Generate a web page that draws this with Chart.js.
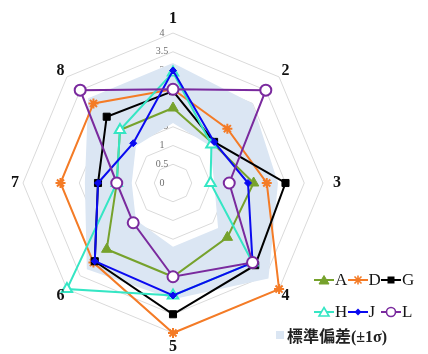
<!DOCTYPE html>
<html>
<head>
<meta charset="utf-8">
<script src="https://cdn.jsdelivr.net/npm/chart.js@4"></script>
<style>
  html, body { margin: 0; padding: 0; background: #fff; }
  #wrap { position: relative; width: 428px; height: 354px; overflow: hidden; }
  #c { position: absolute; left: 0; top: 0; }
  .lg { position: absolute; display: flex; align-items: center; height: 18px;
        font-family: 'Liberation Serif', 'Times New Roman', serif; font-size: 17px;
        color: #151515; white-space: nowrap; }
  .lg svg { display: block; margin-right: 1px; }
  #sdlg { position: absolute; left: 276px; top: 323px; display: flex; align-items: center;
          font-family: 'Liberation Serif', 'Noto Sans CJK TC', serif; font-weight: bold;
          font-size: 16px; color: #222; white-space: nowrap; }
  #sdlg .sw { width: 8px; height: 8px; margin-right: 3px; }
</style>
</head>
<body>
<div id="wrap">
  <canvas id="c" width="428" height="354"></canvas>
  <div id="legend"></div>
</div>
<script>
// Axis (category) labels and radial ticks
const axisLabels = ['1', '2', '3', '4', '5', '6', '7', '8'];
const tickValues = [0, 0.5, 1, 1.5, 2, 2.5, 3, 3.5, 4];

// Series values, one per axis 1..8
const seriesNames = ['A', 'D', 'G', 'H', 'J', 'L'];
const valuesA = [2.0, 1.5, 2.15, 2.05, 2.5, 2.5, 1.5, 2.0];
const valuesD = [2.5, 2.05, 2.5, 4.0, 4.0, 3.0, 3.0, 3.0];
const valuesG = [2.45, 1.55, 3.0, 3.1, 3.5, 2.95, 2.0, 2.5];
const valuesH = [2.95, 1.45, 1.0, 3.0, 3.0, 4.0, 1.5, 2.0];
const valuesJ = [3.0, 1.55, 2.0, 3.0, 3.0, 2.95, 2.0, 1.5];
const valuesL = [2.5, 3.5, 1.5, 3.0, 2.5, 1.5, 1.5, 3.5];

// Standard deviation band (upper and lower edges)
const sdLabel = '標準偏差(±1σ)';
const sdUpper = [3.2, 3.0, 2.8, 3.6, 3.1, 3.25, 2.35, 3.2];
const sdLower = [1.6, 1.4, 1.1, 1.7, 1.7, 1.4, 1.1, 1.4];

const seriesValues = [valuesA, valuesD, valuesG, valuesH, valuesJ, valuesL];

// Visual style of each series
const seriesStyle = [
  { color: '#76a22c', point: 'triangle', fill: '#76a22c', r: 6, bw: 1 },
  { color: '#f47b26', point: 'star',     fill: '#f47b26', r: 5, bw: 2 },
  { color: '#000000', point: 'rect',     fill: '#000000', r: 5, bw: 1 },
  { color: '#35e6c4', point: 'triangle', fill: '#ffffff', r: 6, bw: 2 },
  { color: '#0a0af0', point: 'rectRot',  fill: '#0a0af0', r: 3.5, bw: 1 },
  { color: '#7a2a9e', point: 'circle',   fill: '#ffffff', r: 5.5, bw: 2 }
];
const bandColor = '#dbe6f3';

// Later series are painted over earlier ones; the band sits underneath all
const datasets = seriesNames.map((name, i) => ({
  label: name,
  data: seriesValues[i],
  order: seriesNames.length - i,
  borderColor: seriesStyle[i].color,
  borderWidth: 2,
  backgroundColor: seriesStyle[i].fill,
  fill: false,
  pointStyle: seriesStyle[i].point,
  pointRadius: seriesStyle[i].r,
  pointBorderWidth: seriesStyle[i].bw,
  pointBorderColor: seriesStyle[i].color,
  pointBackgroundColor: seriesStyle[i].fill
}));
datasets.push({
  label: sdLabel,
  data: sdUpper,
  order: 20,
  borderWidth: 0,
  borderColor: 'rgba(0,0,0,0)',
  backgroundColor: bandColor,
  fill: '+1',
  pointRadius: 0
});
datasets.push({
  label: sdLabel + ' lower',
  data: sdLower,
  order: 21,
  borderWidth: 0,
  borderColor: 'rgba(0,0,0,0)',
  backgroundColor: 'rgba(0,0,0,0)',
  fill: false,
  pointRadius: 0
});

// Tick numbers just left of the vertical axis, axis numbers outside the web
const labelPlugin = {
  id: 'radarText',
  beforeDatasetsDraw(chart) {
    const s = chart.scales.r, ctx = chart.ctx;
    ctx.save();
    ctx.font = '10px "Liberation Serif", serif';
    ctx.fillStyle = '#6e6e6e';
    ctx.textAlign = 'center';
    ctx.textBaseline = 'middle';
    tickValues.forEach(v => {
      const d = s.getDistanceFromCenterForValue(v);
      ctx.fillText(String(v), s.xCenter - 11, s.yCenter - d);
    });
    ctx.restore();
  },
  afterDraw(chart) {
    const s = chart.scales.r, ctx = chart.ctx;
    ctx.save();
    ctx.font = 'bold 16px "Liberation Serif", serif';
    ctx.fillStyle = '#111';
    ctx.textAlign = 'center';
    ctx.textBaseline = 'middle';
    axisLabels.forEach((lab, i) => {
      const extra = (i % 2 === 0) ? (i === 6 ? 8 : 14) : 9;
      const p = s.getPointPosition(i, s.drawingArea + extra);
      ctx.fillText(lab, p.x, p.y);
    });
    ctx.restore();
  }
};

new Chart(document.getElementById('c'), {
  type: 'radar',
  data: { labels: axisLabels, datasets },
  options: {
    responsive: false,
    animation: false,
    layout: { padding: { left: 23, right: 105, top: 33, bottom: 21 } },
    plugins: { legend: { display: false }, tooltip: { enabled: false } },
    elements: { line: { tension: 0 } },
    scales: {
      r: {
        min: 0, max: 4,
        ticks: { stepSize: 0.5, display: false },
        grid: { color: '#dadada', lineWidth: 1 },
        angleLines: { display: false },
        pointLabels: { display: false }
      }
    }
  },
  plugins: [labelPlugin]
});

// Legend
function markerSvg(st) {
  const c = st.color, f = st.fill;
  let m = '';
  if (st.point === 'triangle') m = `<polygon points="10,2.5 15,11 5,11" fill="${f}" stroke="${c}" stroke-width="${st.bw === 2 ? 1.6 : 1}"/>`;
  else if (st.point === 'star') m = `<path d="M6.5,3.5 L13.5,10.5 M13.5,3.5 L6.5,10.5 M10,2.5 L10,11.5" stroke="${c}" stroke-width="1.6"/>`;
  else if (st.point === 'rect') m = `<rect x="6.5" y="3.5" width="7" height="7" fill="${f}"/>`;
  else if (st.point === 'rectRot') m = `<polygon points="10,3.5 13.5,7 10,10.5 6.5,7" fill="${f}"/>`;
  else if (st.point === 'circle') m = `<circle cx="10" cy="7" r="4.5" fill="${f}" stroke="${c}" stroke-width="1.6"/>`;
  return `<svg width="20" height="14" viewBox="0 0 20 14"><line x1="0" y1="7" x2="20" y2="7" stroke="${c}" stroke-width="2"/>${m}</svg>`;
}
const lg = document.getElementById('legend');
seriesNames.forEach((name, i) => {
  const col = i % 3, row = Math.floor(i / 3);
  const el = document.createElement('div');
  el.className = 'lg';
  el.style.left = (314 + col * 33.5) + 'px';
  el.style.top = (row === 0 ? 271 : 303) + 'px';
  el.innerHTML = markerSvg(seriesStyle[i]) + '<span>' + name + '</span>';
  lg.appendChild(el);
});
const sd = document.createElement('div');
sd.id = 'sdlg';
sd.innerHTML = `<div class="sw" style="background:${bandColor}"></div><span>${sdLabel}</span>`;
lg.appendChild(sd);
</script>
</body>
</html>
